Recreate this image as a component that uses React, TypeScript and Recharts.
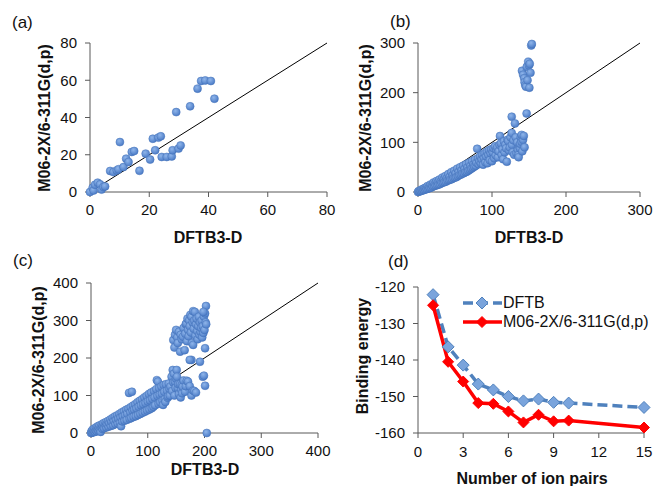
import React from 'react'
import { ScatterChart, Scatter, LineChart, Line, XAxis, YAxis, ReferenceLine, Legend } from 'recharts'

const W = 655
const H = 486
const Y_W = 60
const X_H = 30
const FONT = 'Arial, "Liberation Sans", Helvetica, sans-serif'
const AXIS = '#595959'
const TEXT = '#111'

// (a) DFTB3-D vs M06-2X/6-311G(d,p)
const panelA: [number, number][] = [
  [0, 0], [0.9, 2.3], [1.2, 0.8], [1.7, 3.9], [2.6, 5], [3.4, 4.1], [3.9, 1.3], [4.5, 2.7], [5.1, 3],
  [6.8, 11.3], [7.9, 10.7], [9, 11.6], [9.6, 12.2], [10.1, 26.8], [11.3, 13.4], [12.2, 17.9], [13, 16.1],
  [14.1, 21.5], [14.9, 22], [16.7, 11.4], [18.8, 20.6], [20.3, 17.4], [21.2, 28.6], [22, 22.4],
  [23.1, 29.2], [23.9, 29.9], [24.2, 18.8], [25.9, 18.8], [27.6, 19.1], [27.9, 22.4], [29.9, 23.3],
  [30.6, 25], [29.1, 42.9], [33.8, 46], [36.3, 55.5], [37.5, 59.6], [38.9, 59.9], [40.8, 59.6], [42, 50.1],
]

// (b)
const panelB: [number, number][] = [
  [0, 0], [1, 2], [2, 1], [3, 3], [4, 2], [5, 5], [6, 3], [7, 6], [8, 4], [9, 8], [10, 5], [11, 9],
  [12, 6], [13, 12], [14, 7], [15, 11], [16, 8], [17, 15], [18, 9], [19, 14], [20, 11], [21, 19],
  [22, 12], [23, 17], [24, 13], [25, 22], [26, 14], [27, 20], [28, 15], [29, 25], [30, 16], [31, 22],
  [32, 18], [33, 29], [34, 19], [35, 26], [36, 20], [37, 32], [38, 21], [39, 28], [40, 23], [41, 36],
  [42, 24], [43, 31], [44, 25], [45, 40], [46, 26], [47, 34], [48, 28], [49, 43], [50, 29], [51, 38],
  [52, 30], [53, 47], [54, 32], [55, 41], [56, 34], [57, 50], [58, 35], [59, 44], [60, 37], [61, 53],
  [62, 38], [63, 47], [64, 40], [65, 56], [66, 41], [67, 50], [68, 43], [69, 59], [70, 45], [71, 53],
  [72, 47], [73, 62], [74, 49], [75, 56], [76, 51], [77, 65], [78, 53], [79, 59], [80, 87], [81, 68],
  [82, 56], [83, 62], [84, 72], [85, 58], [86, 66], [87, 75], [88, 55], [89, 69], [90, 78], [91, 60],
  [92, 72], [93, 81], [94, 58], [95, 75], [96, 84], [97, 64], [98, 78], [99, 86], [100, 62], [101, 80],
  [102, 88], [103, 68], [104, 92], [105, 74], [106, 85], [107, 90], [108, 70], [109, 82], [110, 95],
  [110.8, 112.7], [112, 98], [113, 75], [114, 86], [115, 66], [116, 102], [117, 80], [118, 95], [119, 88],
  [120, 61], [121, 105], [122, 102.6], [123, 84], [124, 90], [125, 110], [126.6, 119], [126.6, 151.6],
  [127, 95], [128, 80], [129, 104], [130, 75], [131, 138], [132, 110], [133, 78], [134, 100], [135, 85],
  [135.6, 74.4], [136, 70], [137, 92], [137.8, 88], [138, 97], [139, 110], [140, 101], [140, 115],
  [141, 82], [142, 105], [143, 113], [144, 90], [146.8, 158],
  [140.5, 244], [142, 236], [143.5, 229], [144, 221], [145, 215], [146, 212], [147, 252], [148, 225],
  [149, 262], [150, 255], [150.5, 210], [151, 258], [152, 240], [153, 295], [153.8, 298],
]

// (c)
const panelC: [number, number][] = [
  [0, 0], [1, 5], [2, 1], [3, 9], [4, 2], [5, 6], [6, 12], [7, 3], [8, 8], [9, 15], [10, 5], [11, 11],
  [12, 18], [13, 7], [14, 14], [15, 20], [16, 9], [17, 3], [18, 17], [19, 23], [20, 11], [21, 19],
  [22, 26], [23, 13], [25, 22], [26, 29], [27, 15], [28, 24], [30, 32], [31, 17], [32, 27], [34, 36],
  [35, 19], [36, 30], [38, 40], [39, 21], [40, 33], [42, 44], [43, 24], [44, 36], [46, 47], [47, 26],
  [48, 39], [50, 51], [51, 28], [52, 42], [53, 18], [54, 55], [55, 31], [56, 45], [58, 58], [59, 33],
  [60, 48], [62, 62], [63, 35], [64, 52], [66, 65], [67, 107], [68, 38], [69, 56], [70, 69], [71, 40],
  [72, 110], [73, 60], [74, 73], [75, 43], [76, 63], [78, 77], [79, 45], [80, 66], [82, 82], [83, 48],
  [84, 70], [86, 86], [87, 51], [88, 74], [90, 90], [91, 54], [92, 77], [94, 95], [95, 57], [96, 80],
  [98, 99], [99, 60], [100, 84], [102, 104], [103, 63], [104, 87], [106, 108], [107, 66], [108, 91],
  [110, 70], [111, 112], [112, 95], [113, 74], [115, 117], [116, 141], [117, 99], [118, 137], [119, 78],
  [120, 120], [121, 102], [122, 82], [124, 124], [125, 105], [126, 86], [127, 75], [128, 128], [129, 110],
  [130, 90], [131, 83], [132, 130], [134, 113], [135, 94], [136, 98], [137, 132], [138, 118], [139, 100],
  [140, 124], [142, 150], [143, 112], [144, 168], [145, 135], [146, 158], [147, 100], [148, 137],
  [149, 120], [150, 145], [151, 168], [151.5, 150], [153, 120], [154, 130], [155, 104], [157, 130],
  [158, 95], [159, 115], [160, 128], [160.5, 106], [161.5, 123.5], [163, 140], [165.6, 110], [167, 125],
  [168.6, 139.5], [171, 137], [174, 125], [177, 100], [180, 113], [182, 112], [185, 108], [177, 195],
  [174, 195], [192, 190], [197, 150], [199, 153], [201, 126], [204, 0],
  [145, 248], [147, 228], [148, 262], [150, 275], [152, 255], [153, 240], [155, 270], [157, 217],
  [158, 262], [160, 250], [162, 257], [163, 280], [165, 221], [166, 265], [167, 290], [168, 292],
  [169, 245], [170, 305], [171, 275], [172, 258], [173, 300], [174, 285], [175, 315], [176, 268],
  [177, 310], [178, 240], [179, 295], [180, 235], [180, 325], [181, 278], [182, 300], [183, 323],
  [184, 260], [185, 290], [186, 305], [187, 272], [188, 250], [189, 285], [190, 310], [191, 262],
  [192, 295], [193, 270], [194, 280], [195, 300], [196, 255], [197, 285], [198, 267], [199, 310],
  [200, 275], [201, 319], [201, 226], [202, 295], [202.6, 338.7], [203, 290], [198, 323],
]

// (d) binding energy vs number of ion pairs
const ionPairs = [1, 2, 3, 4, 5, 6, 7, 8, 9, 10, 15]
const dftbEnergy = [-122.1, -136.4, -141.4, -146.6, -148.2, -150, -151.2, -150.7, -151.6, -151.8, -153]
const m06Energy = [-125, -140.5, -145.9, -151.8, -152, -154.1, -157.1, -155, -156.8, -156.6, -158.5]

const ticksA = [0, 20, 40, 60, 80]
const ticksB = [0, 100, 200, 300]
const ticksC = [0, 100, 200, 300, 400]
const ticksDX = [0, 3, 6, 9, 12, 15]
const ticksDY = [-160, -150, -140, -130, -120]

const BLUE_LINE = '#4F81BD'
const RED = '#FF0000'

type Box = { left: number; top: number; right: number; bottom: number }

const marginFor = (b: Box) => ({
  top: b.top,
  left: b.left - Y_W,
  right: W - b.right,
  bottom: H - b.bottom - X_H,
})

const tickStyle = { fill: TEXT, fontSize: 15, fontFamily: FONT }

function ScatterPanel({ id, points, max, ticks, box }: { id: string; points: [number, number][]; max: number; ticks: number[]; box: Box }) {
  const data = points.map(([x, y]) => ({ x, y }))
  return (
    <div style={{ position: 'absolute', left: 0, top: 0 }}>
      <ScatterChart width={W} height={H} margin={marginFor(box)}>
        <defs>
          <radialGradient id={id} cx="40%" cy="35%" r="70%">
            <stop offset="0%" stopColor="#8fb5ea" />
            <stop offset="100%" stopColor="#4677c4" />
          </radialGradient>
        </defs>
        <XAxis type="number" dataKey="x" domain={[0, max]} ticks={ticks} height={X_H}
          axisLine={{ stroke: AXIS }} tickLine={{ stroke: AXIS }} tickSize={5} tickMargin={7} tick={tickStyle} />
        <YAxis type="number" dataKey="y" domain={[0, max]} ticks={ticks} width={Y_W}
          axisLine={{ stroke: AXIS }} tickLine={{ stroke: AXIS }} tickSize={5} tickMargin={8} tick={tickStyle} />
        <Scatter data={data} isAnimationActive={false}
          shape={(p: any) => <circle cx={p.cx} cy={p.cy} r={4} fill={`url(#${id})`} stroke="#4472b9" strokeWidth={0.5} />} />
        <ReferenceLine segment={[{ x: 0, y: 0 }, { x: max, y: max }]} stroke="#000" strokeWidth={1} ifOverflow="visible" />
      </ScatterChart>
    </div>
  )
}

const diamond = (fill: string, stroke: string, r: number) => (p: any) => {
  if (p.cx == null || p.cy == null) return <g key={p.index} />
  const { cx, cy } = p
  return (
    <polygon key={p.index} points={`${cx},${cy - r} ${cx + r},${cy} ${cx},${cy + r} ${cx - r},${cy}`}
      fill={fill} stroke={stroke} strokeWidth={1} />
  )
}

const legendRows = [
  { name: 'DFTB', color: BLUE_LINE, dash: '10 5', fill: '#7aa4dc', r: 6 },
  { name: 'M06-2X/6-311G(d,p)', color: RED, dash: undefined, fill: RED, r: 5.5 },
]

function LegendBox() {
  return (
    <div>
      {legendRows.map(r => (
        <div key={r.name} style={{ display: 'flex', alignItems: 'center', height: 19 }}>
          <svg width={42} height={16}>
            <line x1={2} y1={8} x2={41} y2={8} stroke={r.color} strokeWidth={3.5} strokeDasharray={r.dash} />
            <polygon points={`21,${8 - r.r} ${21 + r.r},8 21,${8 + r.r} ${21 - r.r},8`} fill={r.fill} stroke={r.color} strokeWidth={1} />
          </svg>
          <span style={{ fontFamily: FONT, fontSize: 16, color: TEXT, whiteSpace: 'nowrap' }}>{r.name}</span>
        </div>
      ))}
    </div>
  )
}

function EnergyPanel({ box }: { box: Box }) {
  const data = ionPairs.map((n, i) => ({ n, dftb: dftbEnergy[i], m06: m06Energy[i] }))
  return (
    <div style={{ position: 'absolute', left: 0, top: 0 }}>
      <LineChart width={W} height={H} data={data} margin={marginFor(box)}>
        <XAxis type="number" dataKey="n" domain={[0, 15]} ticks={ticksDX} height={X_H}
          axisLine={{ stroke: AXIS }} tickLine={{ stroke: AXIS }} tickSize={5} tickMargin={8} tick={tickStyle} />
        <YAxis type="number" domain={[-160, -120]} ticks={ticksDY} width={Y_W}
          axisLine={{ stroke: AXIS }} tickLine={{ stroke: AXIS }} tickSize={5} tickMargin={8} tick={tickStyle} />
        <Line dataKey="dftb" stroke={BLUE_LINE} strokeWidth={3.5} strokeDasharray="10 5" isAnimationActive={false}
          dot={diamond('#7aa4dc', BLUE_LINE, 6)} />
        <Line dataKey="m06" stroke={RED} strokeWidth={3.5} isAnimationActive={false}
          dot={diamond(RED, RED, 5.5)} />
        <Legend layout="vertical" align="center" verticalAlign="middle" content={() => <LegendBox />}
          wrapperStyle={{ left: 461, top: 293, width: 190, height: 40 }} />
      </LineChart>
    </div>
  )
}

const boxA: Box = { left: 90, top: 43, right: 327, bottom: 192 }
const boxB: Box = { left: 418, top: 43, right: 640, bottom: 192 }
const boxC: Box = { left: 91, top: 283, right: 318, bottom: 433 }
const boxD: Box = { left: 418, top: 287, right: 644, bottom: 433 }

const tags = [
  { t: '(a)', x: 12, y: 28 },
  { t: '(b)', x: 390, y: 27 },
  { t: '(c)', x: 13, y: 266 },
  { t: '(d)', x: 388, y: 267 },
]
const xTitles = [
  { t: 'DFTB3-D', x: 208, y: 243 },
  { t: 'DFTB3-D', x: 529, y: 243 },
  { t: 'DFTB3-D', x: 205, y: 475 },
  { t: 'Number of ion pairs', x: 532, y: 484 },
]
const yTitles = [
  { t: 'M06-2X/6-311G(d,p)', x: 44, y: 118 },
  { t: 'M06-2X/6-311G(d,p)', x: 365, y: 118 },
  { t: 'M06-2X/6-311G(d,p)', x: 38, y: 360 },
  { t: 'Binding energy', x: 362, y: 356 },
]

export default function App() {
  return (
    <div style={{ position: 'absolute', left: 0, top: 0, width: W, height: H, background: '#fff', overflow: 'hidden' }}>
      <ScatterPanel id="gA" points={panelA} max={80} ticks={ticksA} box={boxA} />
      <ScatterPanel id="gB" points={panelB} max={300} ticks={ticksB} box={boxB} />
      <ScatterPanel id="gC" points={panelC} max={400} ticks={ticksC} box={boxC} />
      <EnergyPanel box={boxD} />
      <svg width={W} height={H} style={{ position: 'absolute', left: 0, top: 0, pointerEvents: 'none' }}>
        {tags.map(d => (
          <text key={d.t} x={d.x} y={d.y} fontFamily={FONT} fontSize={17} fill={TEXT}>{d.t}</text>
        ))}
        {xTitles.map((d, i) => (
          <text key={i} x={d.x} y={d.y} textAnchor="middle" fontFamily={FONT} fontSize={16} fontWeight="bold" fill={TEXT}>{d.t}</text>
        ))}
        {yTitles.map((d, i) => (
          <text key={i} x={d.x} y={d.y} textAnchor="middle" dominantBaseline="central" transform={`rotate(-90 ${d.x} ${d.y})`}
            fontFamily={FONT} fontSize={16} fontWeight="bold" fill={TEXT}>{d.t}</text>
        ))}
      </svg>
    </div>
  )
}
